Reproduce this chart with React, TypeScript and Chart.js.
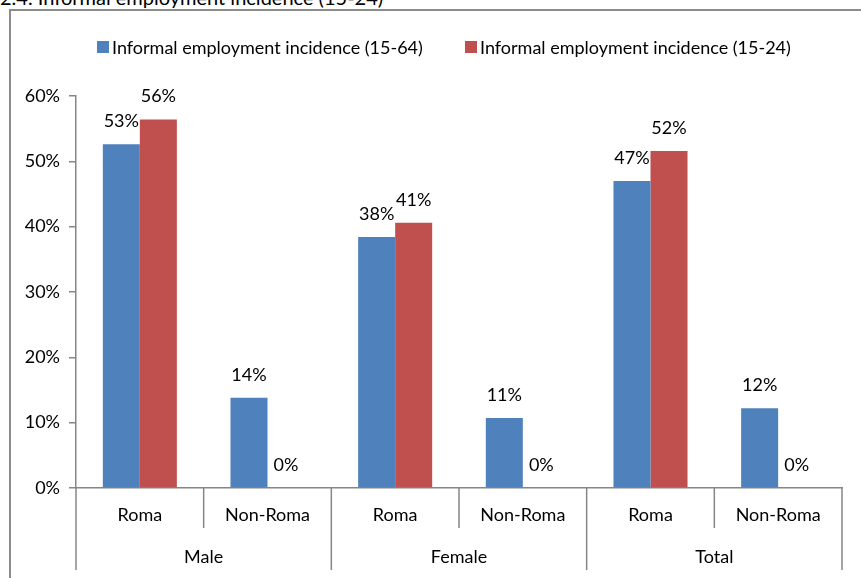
import React, { useEffect, useRef } from "react";
import { Chart, registerables } from "chart.js";

Chart.register(...registerables);

// ---- data ----
const subCategories = ["Roma", "Non-Roma", "Roma", "Non-Roma", "Roma", "Non-Roma"];
const groups = ["Male", "Female", "Total"];
const seriesNames = [
  "Informal employment incidence (15-64)",
  "Informal employment incidence (15-24)",
];
const incidence1564 = [52.6, 13.8, 38.4, 10.7, 47.0, 12.2];
const incidence1524 = [56.4, 0, 40.6, 0, 51.6, 0];
const yMin = 0;
const yMax = 60;
const yStep = 10;
const titleText = "2.4. Informal employment incidence (15-24)";

// ---- styles ----
const FONT = "Lato, 'Open Sans', sans-serif";
const FS = 18;
const BLUE = "#4F81BD";
const RED = "#C0504D";
const AXIS = "#868686";
const seriesColors = [BLUE, RED];

const separatorPlugin = {
  id: "separators",
  afterDraw(chart: any) {
    const xs = chart.scales.x;
    const x2 = chart.scales.x2;
    const ctx = chart.ctx;
    const n = subCategories.length;
    const top = chart.chartArea.bottom;
    ctx.save();
    ctx.strokeStyle = AXIS;
    ctx.lineWidth = 1.5;
    for (let i = 0; i <= n; i++) {
      const x = xs.left + ((xs.right - xs.left) * i) / n;
      const bottom = i % 2 === 0 ? x2.bottom - 8 : xs.bottom - 2;
      ctx.beginPath();
      ctx.moveTo(x, top);
      ctx.lineTo(x, bottom);
      ctx.stroke();
    }
    ctx.restore();
  },
};

const valueLabelPlugin = {
  id: "valueLabels",
  afterDatasetsDraw(chart: any) {
    const ctx = chart.ctx;
    ctx.save();
    ctx.font = `${FS}px ${FONT}`;
    ctx.fillStyle = "#000";
    ctx.textAlign = "center";
    ctx.textBaseline = "middle";
    chart.data.datasets.forEach((ds: any, di: number) => {
      const meta = chart.getDatasetMeta(di);
      meta.data.forEach((el: any, i: number) => {
        const v = ds.data[i];
        ctx.fillText(`${Math.round(v)}%`, el.x, el.y - 23);
      });
    });
    ctx.restore();
  },
};

export default function App() {
  const ref = useRef<HTMLCanvasElement | null>(null);

  useEffect(() => {
    if (!ref.current) return;
    const chart = new Chart(ref.current, {
      type: "bar",
      data: {
        labels: subCategories,
        datasets: [
          {
            label: seriesNames[0],
            data: incidence1564,
            backgroundColor: seriesColors[0],
            barPercentage: 1,
            categoryPercentage: 0.58,
            xAxisID: "x",
          },
          {
            label: seriesNames[1],
            data: incidence1524,
            backgroundColor: seriesColors[1],
            barPercentage: 1,
            categoryPercentage: 0.58,
            xAxisID: "x",
          },
        ],
      },
      options: {
        responsive: false,
        animation: false,
        layout: { padding: { top: 96, right: 19, bottom: 0, left: 0 } },
        plugins: {
          legend: { display: false },
          tooltip: { enabled: false },
          title: { display: false },
        },
        scales: {
          x: {
            type: "category",
            position: "bottom",
            offset: true,
            grid: { display: false, drawTicks: false },
            border: { display: true, color: AXIS, width: 1.5 },
            ticks: {
              color: "#000",
              font: { family: FONT, size: FS },
              padding: 16,
              maxRotation: 0,
              autoSkip: false,
            },
            afterFit: (s: any) => {
              s.height = 42;
            },
          },
          x2: {
            type: "category",
            labels: groups,
            position: "bottom",
            offset: true,
            grid: { display: false, drawTicks: false },
            border: { display: false },
            ticks: {
              color: "#000",
              font: { family: FONT, size: FS },
              padding: 16,
              maxRotation: 0,
              autoSkip: false,
            },
            afterFit: (s: any) => {
              s.height = 48;
            },
          },
          y: {
            min: yMin,
            max: yMax,
            ticks: {
              stepSize: yStep,
              color: "#000",
              font: { family: FONT, size: FS },
              padding: 9,
              callback: (v: any) => `${v}%`,
            },
            grid: {
              display: true,
              drawOnChartArea: false,
              drawTicks: true,
              tickLength: 7,
              color: AXIS,
              lineWidth: 1.5,
            },
            border: { display: true, color: AXIS, width: 1.5 },
            afterFit: (s: any) => {
              s.width = 76;
            },
          },
        },
      },
      plugins: [separatorPlugin, valueLabelPlugin],
    } as any);
    return () => chart.destroy();
  }, []);

  return (
    <div
      style={{
        position: "fixed",
        left: 0,
        top: 0,
        width: 861,
        height: 578,
        overflow: "hidden",
        background: "#fff",
        fontFamily: FONT,
      }}
    >
      <div
        style={{
          position: "absolute",
          left: 0,
          top: -15,
          fontSize: 20,
          whiteSpace: "nowrap",
          color: "#000",
        }}
      >
        {titleText}
      </div>
      <div
        style={{
          position: "absolute",
          left: 9,
          top: 9,
          width: 1000,
          height: 1000,
          border: "2px solid #8c8c8c",
          boxSizing: "border-box",
        }}
      />
      <canvas
        ref={ref}
        width={861}
        height={578}
        style={{ position: "absolute", left: 0, top: 0, display: "block" }}
      />
      {seriesNames.map((name, i) => (
        <div
          key={name}
          style={{
            position: "absolute",
            left: i === 0 ? 97 : 465,
            top: 36,
            display: "flex",
            alignItems: "center",
            height: 22,
            fontSize: FS,
            color: "#000",
            whiteSpace: "nowrap",
          }}
        >
          <span
            style={{
              display: "inline-block",
              width: 12,
              height: 12,
              background: seriesColors[i],
              marginRight: 3,
            }}
          />
          <span>{name}</span>
        </div>
      ))}
    </div>
  );
}
